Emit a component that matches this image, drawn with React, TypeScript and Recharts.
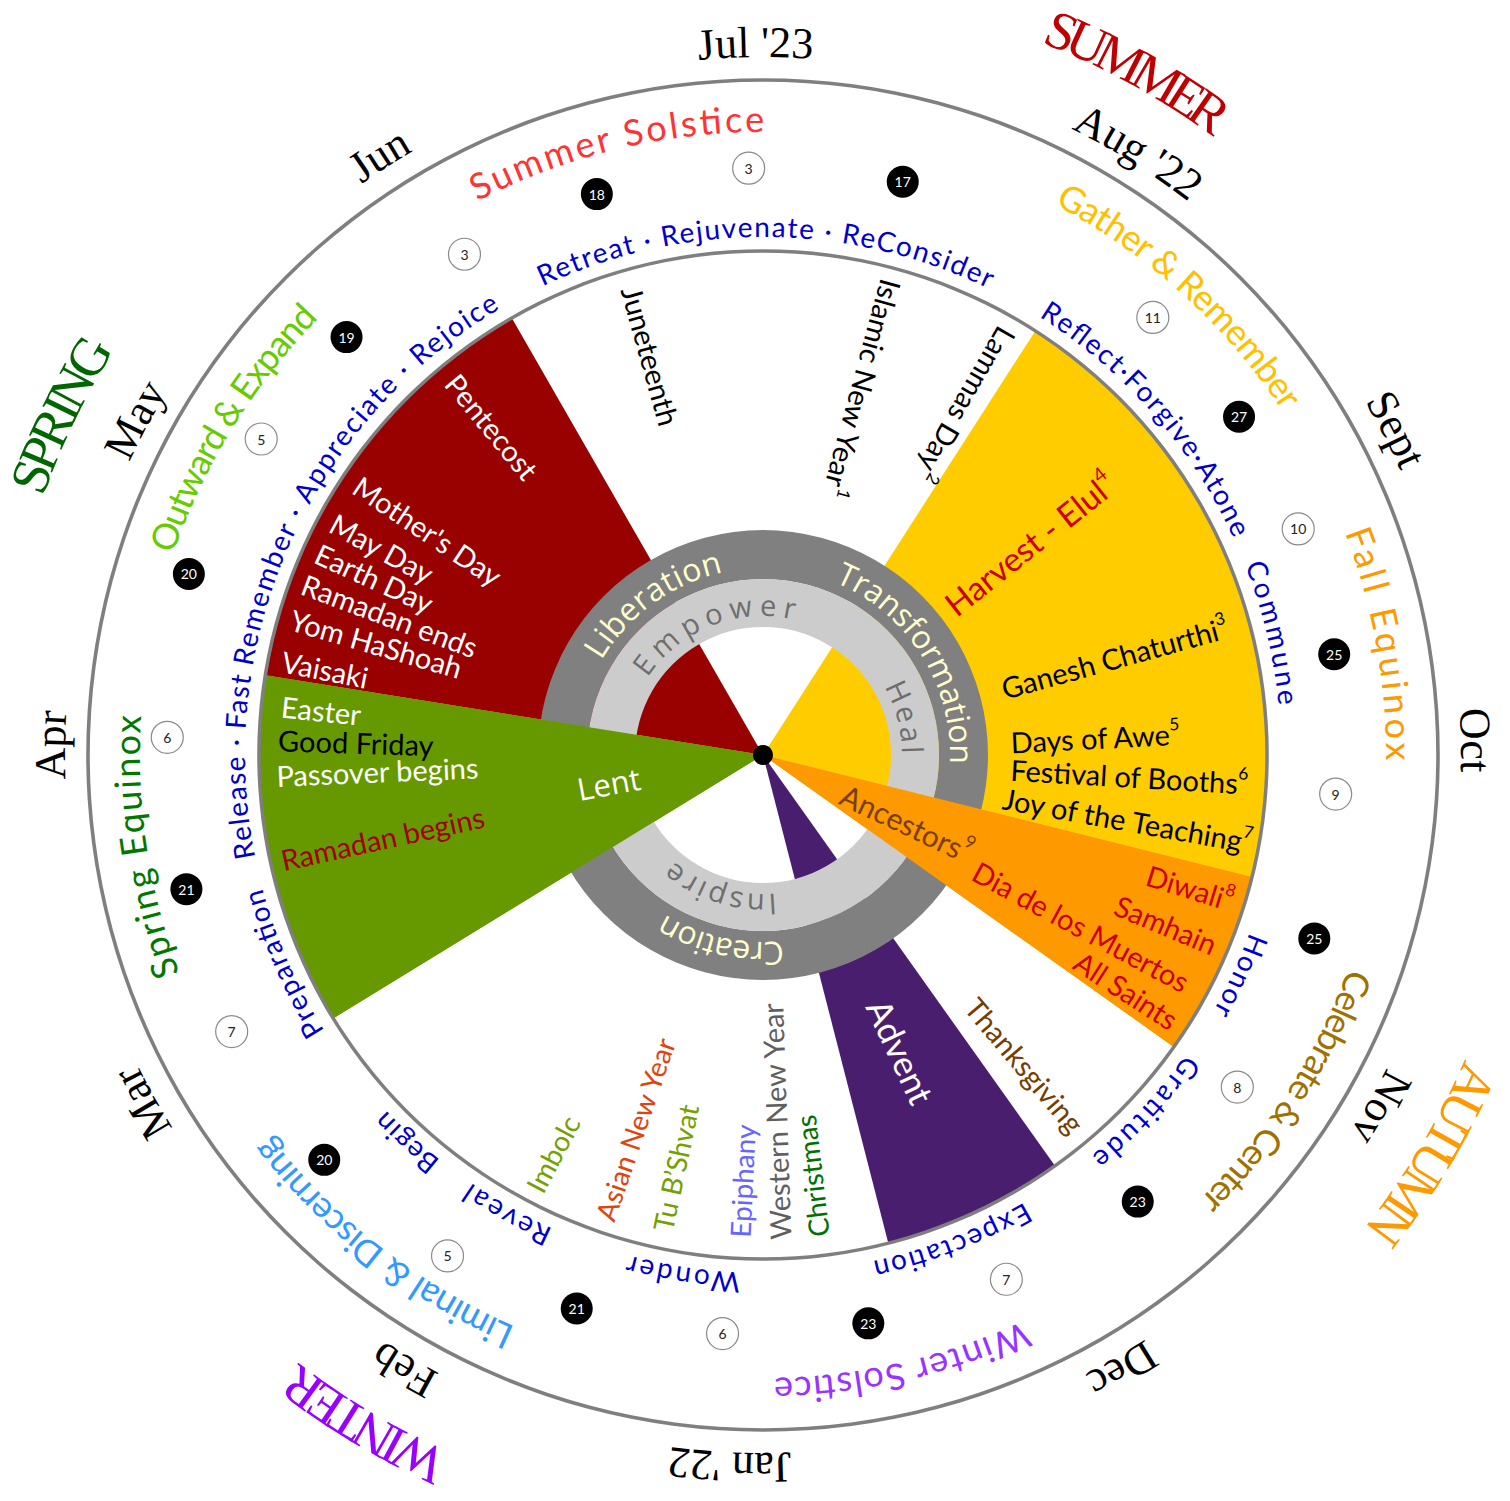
import React from 'react';
import { PieChart, Pie, Cell, Customized } from 'recharts';

const CX = 763;
const CY = 755;

// ---------- wedges (degrees, clockwise from 12 o'clock) ----------
const wedgeNames = ['gapTop', 'Harvest', 'Ancestors', 'gapRight', 'Advent', 'gapBottom', 'Lent', 'Pentecost', 'gapLeft'];
const wedgeSpans = [32.7, 71.3, 21.4, 19.2, 21.0, 72.9, 40.6, 51.0, 29.9];
const wedgeColors = ['none', '#ffcc00', '#ff9900', 'none', '#4a1e6e', 'none', '#669900', '#990000', 'none'];
const wedgeOnTop = [false, false, true, false, false, false, true, false, false];

// ---------- outer text: seasons ----------
const seasonLabels = ['SUMMER', 'AUTUMN', 'WINTER', 'SPRING'];
const seasonStart = [21.3, 113.4, 204.2, 289.7];
const seasonEnd = [36.1, 128.3, 217.4, 302.0];
const seasonColors = ['#c00000', '#ff9900', '#9900ff', '#006600'];

// ---------- months ----------
const monthLabels = ["Jul '23", "Aug '22", 'Sept', 'Oct', 'Nov', 'Dec', "Jan '22", 'Feb', 'Mar', 'Apr', 'May', 'Jun'];
const monthAngles = [-0.6, 31.9, 62.8, 88.8, 119.7, 149.7, 182.7, 210.3, 240.7, 270.8, 298.1, 327.4];

// ---------- phases between the two circles ----------
const phaseLabels = ['Summer Solstice', 'Gather & Remember', 'Fall Equinox', 'Celebrate & Center', 'Winter Solstice', 'Liminal & Discerning', 'Spring Equinox', 'Outward & Expand'];
const phaseStart = [332.7, 27.9, 69.1, 110.0, 155.3, 203.4, 249.5, 288.8];
const phaseEnd = [0.1, 56.5, 90.5, 135.5, 179.0, 232.3, 273.6, 314.5];
const phaseColors = ['#ff3333', '#ffc000', '#ff9900', '#a07000', '#9933ff', '#3399ff', '#007800', '#66cc00'];

// ---------- blue path words along inner circle ----------
const pathLabels = ['Retreat · Rejuvenate · ReConsider', 'Reflect·Forgive·Atone', 'Commune', 'Honor', 'Gratitude', 'Expectation', 'Wonder', 'Reveal', 'Begin', 'Preparation', 'Release · Fast', 'Remember · Appreciate · Rejoice'];
const pathStart = [334.8, 32.2, 68.5, 110.0, 125.3, 149.7, 182.5, 203.9, 218.5, 237.8, 258.6, 279.8];
const pathEnd = [25.8, 65.3, 84.5, 119.6, 140.7, 167.8, 195.0, 214.3, 226.7, 255.1, 278.8, 329.5];

// ---------- ring words ----------
const ringLabels = ['Liberation', 'Transformation', 'Creation', 'Empower', 'Heal', 'Inspire'];
const ringStart = [300.3, 22.5, 173.8, 303.9, 60.6, 174.7];
const ringEnd = [347.7, 92.7, 211.6, 372.8, 89.5, 220.0];
const ringBase = [187, 187, 187, 139, 139, 139];
const ringSizes = [32, 32, 32, 29, 29, 29];
const ringColors = ['#ffffcc', '#ffffcc', '#ffffcc', '#6e6e6e', '#6e6e6e', '#6e6e6e'];

// ---------- moon phases ----------
const newMoonDays = [18, 17, 27, 25, 25, 23, 23, 21, 20, 21, 20, 19];
const newMoonAngles = [343.5, 13.7, 54.6, 80.0, 108.4, 140.0, 169.5, 198.6, 227.3, 256.9, 287.5, 315.1];
const newMoonRadii = [585, 590, 584, 580, 581, 583, 578, 584, 597, 592, 602, 590];
const fullMoonDays = [3, 11, 10, 9, 8, 7, 6, 5, 7, 6, 5, 3];
const fullMoonAngles = [358.6, 41.7, 67.1, 93.9, 125.0, 155.1, 184.0, 212.2, 242.5, 271.7, 302.2, 329.2];
const fullMoonRadii = [587, 586, 581, 574, 579, 578, 580, 592, 599, 596, 593, 583];

// ---------- observances (radial text) ----------
const eventLabels = ['Pentecost', "Mother's Day", 'May Day', 'Earth Day', 'Ramadan ends', 'Yom HaShoah', 'Vaisaki', 'Easter', 'Good Friday', 'Passover begins', 'Ramadan begins', 'Lent', 'Juneteenth', 'Islamic New Year', 'Lammas Day', 'Harvest - Elul', 'Ganesh Chaturthi', 'Days of Awe', 'Festival of Booths', 'Joy of the Teaching', 'Ancestors', 'Dia de los Muertos', 'Diwali', 'Samhain', 'All Saints', 'Advent', 'Thanksgiving', 'Christmas', 'Western New Year', 'Epiphany', 'Tu B’Shvat', 'Asian New Year', 'Imbolc'];
const eventNotes = ['', '', '', '', '', '', '', '', '', '', '', '', '', '1', '2', '4', '3', '5', '6', '7', '9', '', '8', '', '', '', '', '', '', '', '', '', ''];
const eventAngles = [320.5, 303.8, 298.5, 294.5, 290.5, 286.1, 281.1, 275.8, 271.8, 267.6, 257.7, 259.6, 344.3, 15.2, 30.0, 51.6, 74.5, 87.0, 93.3, 100.1, 115.3, 118.3, 107.2, 112.8, 122.9, 155.0, 139.8, 173.4, 178.0, 182.8, 192.0, 198.9, 207.8];
const eventRadii = [489, 489, 490, 490, 491, 491, 490, 484, 485, 487, 493, 157, 486, 492, 491, 237, 248, 248, 248, 244, 159, 241, 492, 491, 491, 327, 489, 485, 485, 483, 486, 491, 492];
const eventAnchors = ['start', 'start', 'start', 'start', 'start', 'start', 'start', 'start', 'start', 'start', 'start', 'middle', 'start', 'start', 'start', 'start', 'start', 'start', 'start', 'start', 'middle', 'start', 'end', 'end', 'end', 'middle', 'end', 'start', 'start', 'start', 'start', 'start', 'start'];
const eventDirs = ['in', 'in', 'in', 'in', 'in', 'in', 'in', 'in', 'in', 'in', 'in', 'in', 'in', 'in', 'in', 'out', 'out', 'out', 'out', 'out', 'out', 'out', 'out', 'out', 'out', 'out', 'out', 'in', 'in', 'in', 'in', 'in', 'in'];
const eventColors = ['#ffffff', '#ffffff', '#ffffff', '#ffffff', '#ffffff', '#ffffff', '#ffffff', '#ffffff', '#000000', '#ffffff', '#a00000', '#ffffff', '#000000', '#000000', '#000000', '#cc0000', '#000000', '#000000', '#000000', '#000000', '#7a3d00', '#cc0000', '#cc0000', '#cc0000', '#cc0000', '#ffffff', '#763c00', '#007000', '#5f5f5f', '#6666ff', '#74a000', '#e0440e', '#74a000'];
const eventSizes = [29, 29, 29, 29, 29, 29, 29, 29, 29, 29, 29, 31, 29, 29, 29, 33, 29, 29, 29, 29, 30, 29, 29, 29, 29, 35, 29, 28, 29, 28, 28, 28, 28];

const wedgeData = wedgeNames.map((name, i) => ({ name, span: wedgeSpans[i] }));
const ringData = [{ name: 'ring', value: 1 }];

const SANS = "Lato, 'Noto Sans', sans-serif";
const OPEN = "'Open Sans', Lato, sans-serif";
const SERIF = "'Liberation Serif', 'DejaVu Serif', serif";

const toXY = (deg: number, r: number): [number, number] => {
  const a = (deg * Math.PI) / 180;
  return [CX + r * Math.sin(a), CY - r * Math.cos(a)];
};

const arcPath = (a1: number, a2: number, r: number) => {
  const [x1, y1] = toXY(a1, r);
  const [x2, y2] = toXY(a2, r);
  const large = a2 - a1 > 180 ? 1 : 0;
  return `M ${x1.toFixed(2)} ${y1.toFixed(2)} A ${r} ${r} 0 ${large} 1 ${x2.toFixed(2)} ${y2.toFixed(2)}`;
};

type ArcProps = { id: string; text: string; a1: number; a2: number; r: number; size: number; color: string; family: string };
const ArcText = ({ id, text, a1, a2, r, size, color, family }: ArcProps) => {
  let b = a2;
  while (b < a1) b += 360;
  const len = ((b - a1) * Math.PI * r) / 180;
  return (
    <g>
      <path id={id} d={arcPath(a1, b, r)} fill="none" stroke="none" />
      <text fontFamily={family} fontSize={size} fill={color}>
        <textPath href={`#${id}`} textLength={len} lengthAdjust="spacing">
          {text}
        </textPath>
      </text>
    </g>
  );
};

type CenterProps = { id: string; text: string; angle: number; r: number; size: number; color: string; family: string };
const ArcTextCentered = ({ id, text, angle, r, size, color, family }: CenterProps) => (
  <g>
    <path id={id} d={arcPath(angle - 18, angle + 18, r)} fill="none" stroke="none" />
    <text fontFamily={family} fontSize={size} fill={color} textAnchor="middle">
      <textPath href={`#${id}`} startOffset="50%">
        {text}
      </textPath>
    </text>
  </g>
);

const Overlay = () => (
  <g>
    {seasonLabels.map((t, i) => (
      <ArcText key={'season' + i} id={'season' + i} text={t} a1={seasonStart[i]} a2={seasonEnd[i]} r={765} size={54} color={seasonColors[i]} family={SERIF} />
    ))}
    {monthLabels.map((t, i) => (
      <ArcTextCentered key={'month' + i} id={'month' + i} text={t} angle={monthAngles[i]} r={698} size={44} color="#000000" family={SERIF} />
    ))}
    {phaseLabels.map((t, i) => (
      <ArcText key={'phase' + i} id={'phase' + i} text={t} a1={phaseStart[i]} a2={phaseEnd[i]} r={623} size={36} color={phaseColors[i]} family={SANS} />
    ))}
    {pathLabels.map((t, i) => (
      <ArcText key={'path' + i} id={'path' + i} text={t} a1={pathStart[i]} a2={pathEnd[i]} r={518} size={28} color="#0000cc" family={SANS} />
    ))}
    {ringLabels.map((t, i) => (
      <ArcText key={'ring' + i} id={'ringtxt' + i} text={t} a1={ringStart[i]} a2={ringEnd[i]} r={ringBase[i]} size={ringSizes[i]} color={ringColors[i]} family={OPEN} />
    ))}
    {newMoonDays.map((d, i) => {
      const [x, y] = toXY(newMoonAngles[i], newMoonRadii[i]);
      return (
        <g key={'nm' + i}>
          <circle cx={x} cy={y} r={16} fill="#000000" />
          <text x={x} y={y} textAnchor="middle" dominantBaseline="central" fontFamily={SANS} fontSize={14} fill="#ffffff">
            {d}
          </text>
        </g>
      );
    })}
    {fullMoonDays.map((d, i) => {
      const [x, y] = toXY(fullMoonAngles[i], fullMoonRadii[i]);
      return (
        <g key={'fm' + i}>
          <circle cx={x} cy={y} r={16} fill="#ffffff" stroke="#8a8a8a" strokeWidth={1.2} />
          <text x={x} y={y} textAnchor="middle" dominantBaseline="central" fontFamily={SANS} fontSize={14} fill="#222222">
            {d}
          </text>
        </g>
      );
    })}
    {eventLabels.map((t, i) => {
      const [x, y] = toXY(eventAngles[i], eventRadii[i]);
      const rot = eventDirs[i] === 'in' ? eventAngles[i] + 90 : eventAngles[i] - 90;
      const size = eventSizes[i];
      const fam = t === 'Lent' ? OPEN : SANS;
      return (
        <text
          key={'ev' + i}
          x={x}
          y={y}
          transform={`rotate(${rot.toFixed(2)} ${x.toFixed(2)} ${y.toFixed(2)})`}
          textAnchor={eventAnchors[i] as any}
          dominantBaseline="central"
          fontFamily={fam}
          fontSize={size}
          fill={eventColors[i]}
        >
          {t}
          {eventNotes[i] ? (
            <tspan dy={-size * 0.35} fontSize={size * 0.6}>
              {eventNotes[i]}
            </tspan>
          ) : null}
        </text>
      );
    })}
  </g>
);

const layer: React.CSSProperties = { position: 'absolute', left: 0, top: 0 };

export default function App() {
  return (
    <div style={{ position: 'absolute', left: 0, top: 0, width: 1510, height: 1501, background: '#ffffff' }}>
      <div style={layer}>
        <PieChart width={1510} height={1501} margin={{ top: 0, right: 0, bottom: 0, left: 0 }}>
          <Pie data={wedgeData} dataKey="span" cx={CX} cy={CY} innerRadius={0} outerRadius={504} startAngle={90} endAngle={-270} stroke="none" isAnimationActive={false}>
            {wedgeData.map((d, i) => (
              <Cell key={d.name} fill={wedgeColors[i]} stroke="none" />
            ))}
          </Pie>
          <Pie data={ringData} dataKey="value" cx={CX} cy={CY} innerRadius={176} outerRadius={225} startAngle={90} endAngle={-270} fill="#808080" stroke="none" isAnimationActive={false} />
          <Pie data={ringData} dataKey="value" cx={CX} cy={CY} innerRadius={128} outerRadius={176} startAngle={90} endAngle={-270} fill="#cccccc" stroke="none" isAnimationActive={false} />
          <Pie data={wedgeData} dataKey="span" cx={CX} cy={CY} innerRadius={0} outerRadius={504} startAngle={90} endAngle={-270} stroke="none" isAnimationActive={false}>
            {wedgeData.map((d, i) => (
              <Cell key={d.name + 'top'} fill={wedgeOnTop[i] ? wedgeColors[i] : 'none'} stroke="none" />
            ))}
          </Pie>
        </PieChart>
      </div>
      <div style={layer}>
        <PieChart width={1510} height={1501} margin={{ top: 0, right: 0, bottom: 0, left: 0 }}>
          <Pie data={ringData} dataKey="value" cx={CX} cy={CY} innerRadius={502.3} outerRadius={505.8} startAngle={90} endAngle={-270} fill="#7f7f7f" stroke="none" isAnimationActive={false} />
          <Pie data={ringData} dataKey="value" cx={CX} cy={CY} innerRadius={673.2} outerRadius={676.8} startAngle={90} endAngle={-270} fill="#7f7f7f" stroke="none" isAnimationActive={false} />
          <Pie data={ringData} dataKey="value" cx={CX} cy={CY} innerRadius={0} outerRadius={10} startAngle={90} endAngle={-270} fill="#000000" stroke="none" isAnimationActive={false} />
          <Customized component={Overlay} />
        </PieChart>
      </div>
    </div>
  );
}
